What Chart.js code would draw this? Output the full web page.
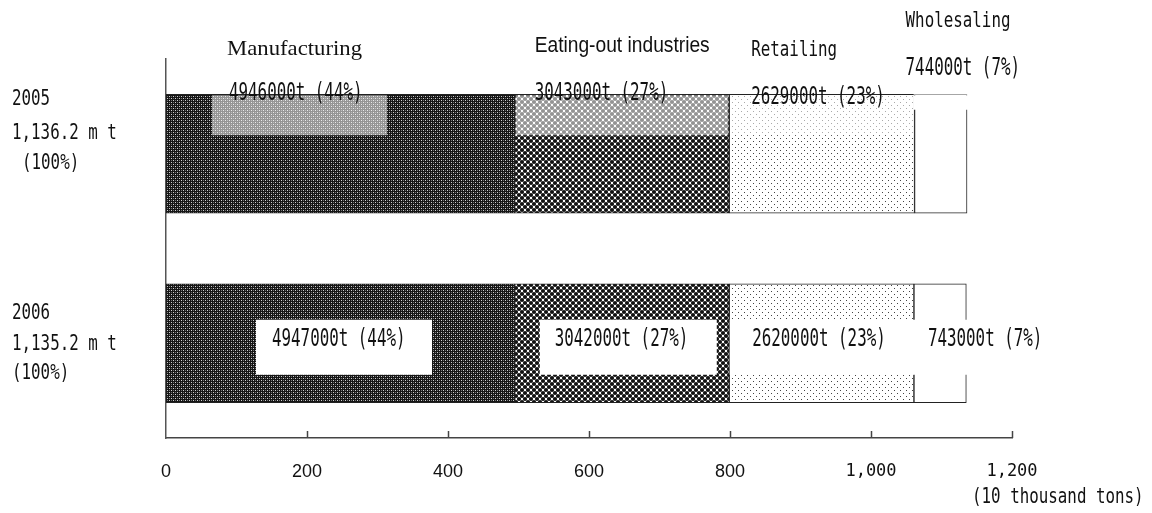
<!DOCTYPE html>
<html>
<head>
<meta charset="utf-8">
<script src="https://cdn.jsdelivr.net/npm/chart.js@4/dist/chart.umd.min.js"></script>
<style>
html, body { margin: 0; padding: 0; background: #fff; }
#wrap { width: 1152px; height: 513px; position: relative; }
</style>
</head>
<body>
<div id="wrap"><canvas id="foodChart"></canvas></div>
<script>
// amounts are in 10 thousand tons
const years = ['2005', '2006'];
const totals = ['1,136.2 m t', '1,135.2 m t'];
const totalShare = ['(100%)', '(100%)'];
const sectors = ['Manufacturing', 'Eating-out industries', 'Retailing', 'Wholesaling'];
const manufacturing = [494.6, 494.7];
const eatingOut = [304.3, 304.2];
const retailing = [262.9, 262.0];
const wholesaling = [74.4, 74.3];
const manufacturingPct = [44, 44];
const eatingOutPct = [27, 27];
const retailingPct = [23, 23];
const wholesalingPct = [7, 7];
const unitLabel = '(10 thousand tons)';

const MONO = "'DejaVu Sans Mono', 'Liberation Mono', monospace";
const SANS = "'Liberation Sans', Arial, sans-serif";

function makePattern(w, h, draw) {
    const c = document.createElement('canvas');
    c.width = w;
    c.height = h;
    const g = c.getContext('2d');
    draw(g);
    return g.createPattern(c, 'repeat');
}

// dark fine screen
const darkDots = makePattern(4, 4, g => {
    g.fillStyle = '#161616';
    g.fillRect(0, 0, 4, 4);
    g.fillStyle = '#d0d0d0';
    g.fillRect(1, 0, 1, 1);
    g.fillRect(3, 2, 1, 1);
    g.fillStyle = '#707070';
    g.fillRect(1, 2, 1, 1);
    g.fillRect(3, 0, 1, 1);
});

// black balls
const balls = makePattern(6, 6, g => {
    g.fillStyle = '#fff';
    g.fillRect(0, 0, 6, 6);
    g.fillStyle = '#111';
    [[0, 0], [6, 0], [0, 6], [6, 6], [3, 3]].forEach(p => {
        g.beginPath();
        g.arc(p[0], p[1], 2.1, 0, Math.PI * 2);
        g.fill();
    });
});

// sparse dots
const sparse = makePattern(6, 6, g => {
    g.fillStyle = '#fff';
    g.fillRect(0, 0, 6, 6);
    g.fillStyle = '#444';
    g.fillRect(0, 0, 1, 1);
    g.fillRect(3, 3, 1, 1);
});

function monoText(ctx, s, x, y, size, sx) {
    ctx.save();
    ctx.font = size + 'px ' + MONO;
    ctx.textBaseline = 'middle';
    ctx.textAlign = 'left';
    ctx.translate(x, y);
    ctx.scale(sx, 1);
    ctx.fillText(s, 0, 0);
    ctx.restore();
}

function fitText(ctx, s, x, y, font, w) {
    ctx.save();
    ctx.font = font;
    ctx.textBaseline = 'middle';
    ctx.textAlign = 'left';
    const m = ctx.measureText(s).width;
    ctx.translate(x, y);
    ctx.scale(w / m, 1);
    ctx.fillText(s, 0, 0);
    ctx.restore();
}

function amountText(v, pct) {
    return Math.round(v * 10000) + 't (' + pct + '%)';
}

const amounts = [manufacturing, eatingOut, retailing, wholesaling];
const pcts = [manufacturingPct, eatingOutPct, retailingPct, wholesalingPct];

const labelPlugin = {
    id: 'labelPlugin',
    afterDatasetsDraw(chart) {
        const ctx = chart.ctx;
        const segs = [0, 1, 2, 3].map(d => chart.getDatasetMeta(d).data.map(el => ({
            left: Math.min(el.x, el.base),
            right: Math.max(el.x, el.base),
            top: el.y - el.height / 2,
            bottom: el.y + el.height / 2
        })));
        ctx.save();

        // 2005: faded band along the top of the bar
        const band = [[46, 221], null, null, null];
        segs.forEach((row, d) => {
            const s = row[0];
            if (d === 3) {
                ctx.fillStyle = 'rgba(255,255,255,0.6)';
                ctx.fillRect(s.left - 1, s.top - 1, s.right - s.left + 3, 3);
                ctx.fillStyle = '#fff';
                ctx.fillRect(s.left - 1, s.top + 1.5, s.right - s.left + 3, 14);
                return;
            }
            const x0 = band[d] ? s.left + band[d][0] : s.left + 1;
            const x1 = band[d] ? s.left + band[d][1] : s.right - 1;
            ctx.fillStyle = 'rgba(255,255,255,0.55)';
            ctx.fillRect(x0, s.top + 1, x1 - x0, 40);
        });

        // 2006: white boxes in the middle of the bar
        const box = [[90, 266], [25, 202], null, null];
        segs.forEach((row, d) => {
            const s = row[1];
            let x0 = s.left + 0.5, x1 = s.right - 0.5;
            if (box[d]) { x0 = s.left + box[d][0]; x1 = s.left + box[d][1]; }
            if (d === 3) { x0 = s.left - 1; x1 = s.right + 2; }
            ctx.fillStyle = '#fff';
            ctx.fillRect(x0, s.top + 36, x1 - x0, 55);
        });

        ctx.fillStyle = '#111';

        // sector names above the 2005 bar
        const s0 = segs.map(r => r[0]);
        fitText(ctx, sectors[0], s0[0].left + 61, s0[0].top - 45, "22px 'Liberation Serif', serif", 135);
        fitText(ctx, sectors[1], s0[1].left + 20, s0[1].top - 48, "22px " + SANS, 175);
        monoText(ctx, sectors[2], s0[2].left + 22, s0[2].top - 44, 22, 0.72);
        monoText(ctx, sectors[3], s0[3].left - 9, s0[3].top - 73, 22, 0.72);

        // amounts, 2005
        const dx0 = [63, 20, 22, -9];
        const dy0 = [0, 0, 4, -25];
        s0.forEach((s, d) => {
            monoText(ctx, amountText(amounts[d][0], pcts[d][0]), s.left + dx0[d], s.top + dy0[d], 24, 0.66);
        });

        // amounts, 2006
        const dx1 = [106, 40, 23, 14];
        segs.forEach((row, d) => {
            const s = row[1];
            monoText(ctx, amountText(amounts[d][1], pcts[d][1]), s.left + dx1[d], s.top + 56, 24, 0.66);
        });

        // year / total labels at the left
        const yOff = [[5.5, 39.5, 69.5], [30, 61, 90]];
        const shareX = [22, 12];
        years.forEach((yr, i) => {
            const t = segs[0][i].top;
            monoText(ctx, yr, 12, t + yOff[i][0], 22, 0.72);
            monoText(ctx, totals[i], 12, t + yOff[i][1], 22, 0.72);
            monoText(ctx, totalShare[i], shareX[i], t + yOff[i][2], 22, 0.72);
        });

        // inward tick marks on the value axis
        const xs = chart.scales.x;
        ctx.strokeStyle = '#444';
        ctx.lineWidth = 1.5;
        xs.ticks.forEach(t => {
            if (t.value === 0) return;
            const px = Math.round(xs.getPixelForValue(t.value)) + 0.5;
            ctx.beginPath();
            ctx.moveTo(px, xs.top);
            ctx.lineTo(px, xs.top - 7);
            ctx.stroke();
        });

        // unit
        monoText(ctx, unitLabel, xs.getPixelForValue(1200) - 40, xs.top + 59, 22, 0.72);
        ctx.restore();
    }
};

const ctx = document.getElementById('foodChart');

const sets = [
    { label: sectors[0], data: manufacturing, backgroundColor: darkDots },
    { label: sectors[1], data: eatingOut, backgroundColor: balls },
    { label: sectors[2], data: retailing, backgroundColor: sparse },
    { label: sectors[3], data: wholesaling, backgroundColor: '#ffffff' }
].map(s => Object.assign(s, {
    borderColor: '#222',
    borderWidth: 1,
    borderSkipped: false,
    barThickness: 119
}));

new Chart(ctx, {
    type: 'bar',
    data: { labels: years, datasets: sets },
    options: {
        indexAxis: 'y',
        responsive: true,
        maintainAspectRatio: false,
        animation: false,
        layout: { padding: { left: 166, right: 140, top: 59, bottom: 0 } },
        plugins: {
            legend: { display: false },
            tooltip: { enabled: false }
        },
        scales: {
            x: {
                stacked: true,
                min: 0,
                max: 1200,
                afterFit: s => { s.height = 75; },
                grid: { display: false, drawTicks: false },
                border: { display: true, color: '#444', width: 1.5 },
                ticks: {
                    stepSize: 200,
                    padding: 23,
                    color: '#111',
                    maxRotation: 0,
                    callback: v => v.toLocaleString('en-US'),
                    font: c => (c.tick && c.tick.value >= 1000)
                        ? { family: MONO, size: 17 }
                        : { family: SANS, size: 18 }
                }
            },
            y: {
                stacked: true,
                afterFit: s => { s.width = 0; },
                ticks: { display: false },
                grid: { display: false },
                border: { display: true, color: '#555', width: 1.5 }
            }
        }
    },
    plugins: [labelPlugin]
});
</script>
</body>
</html>
